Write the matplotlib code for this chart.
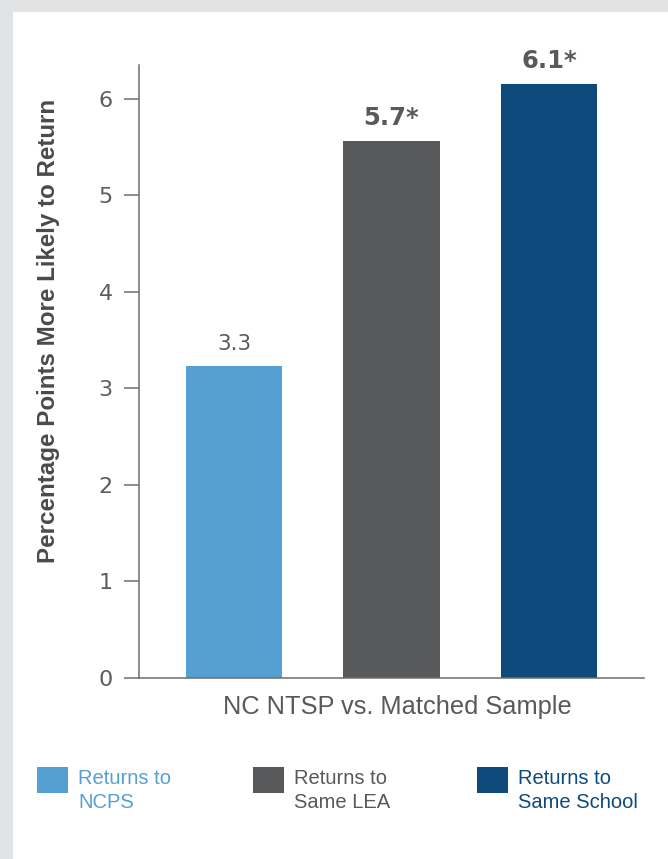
import numpy as np
import matplotlib
matplotlib.use("Agg")
import matplotlib.pyplot as plt
from matplotlib.patches import Rectangle

# chart values
groups = ["Returns to\nNCPS", "Returns to\nSame LEA", "Returns to\nSame School"]
values = [3.23, 5.565, 6.155]
value_labels = ["3.3", "5.7*", "6.1*"]
label_bold = [False, True, True]
colors = ["#569fd3", "#58595b", "#0e4a7b"]
y_ticks = [0, 1, 2, 3, 4, 5, 6]

plt.rcParams["font.family"] = ["Liberation Sans", "DejaVu Sans"]
text_gray = "#595959"
axis_gray = "#6e6e6e"

W, H = 668, 859
fig = plt.figure(figsize=(W / 100, H / 100), dpi=100)
fig.patch.set_facecolor("#e2e3e5")
# white panel
fig.patches.append(Rectangle((13 / W, 0), 1, 1 - 12 / H, transform=fig.transFigure,
                             facecolor="white", edgecolor="none", zorder=-10))

ax = fig.add_axes([139 / W, 181 / H, 505 / W, 613 / H])
ax.set_zorder(2)
ax.set_facecolor("none")

x = np.arange(len(values))
bars = ax.bar(x, values, width=0.61, color=colors, zorder=2)

for rect, lab, bold in zip(bars, value_labels, label_bold):
    ax.annotate(lab, (rect.get_x() + rect.get_width() / 2, rect.get_height()),
                xytext=(0, 8 if bold else 9), textcoords="offset points",
                ha="center", va="bottom", family="DejaVu Sans",
                fontsize=17.5 if bold else 15.5,
                fontweight="bold" if bold else "normal", color=text_gray)

ax.set_xlim(-0.603, 2.603)
ax.set_ylim(0, 6.35)
ax.set_yticks(y_ticks)
ax.set_xticks([])
ax.tick_params(axis="y", direction="out", length=11, width=1.1, color=axis_gray,
               labelsize=16, labelcolor="#5c5c5c", pad=8)
for t in ax.get_yticklabels():
    t.set_family("DejaVu Sans")
for s in ["top", "right"]:
    ax.spines[s].set_visible(False)
for s in ["left", "bottom"]:
    ax.spines[s].set_color(axis_gray)
    ax.spines[s].set_linewidth(1.1)

ax.set_xlabel("NC NTSP vs. Matched Sample", fontsize=18.3, color=text_gray)
ax.xaxis.set_label_coords(0.512, -0.028)
ax.xaxis.label.set_va("top")
ax.set_ylabel("Percentage Points More Likely to Return", fontsize=17.4,
              fontweight="bold", color="#4a4a4a")
ax.yaxis.set_label_coords(-0.18, 0.566)
ax.yaxis.label.set_va("center")

# legend
sq_x = [37, 253, 477]
for i, (g, c) in enumerate(zip(groups, colors)):
    fig.patches.append(Rectangle((sq_x[i] / W, 1 - 793 / H), 31 / W, 26 / H,
                                 transform=fig.transFigure, facecolor=c, edgecolor="none"))
    fig.text((sq_x[i] + 41) / W, 1 - 769 / H, g, color=c, fontsize=14.5,
             ha="left", va="top", linespacing=1.32)

fig.savefig("out.png", dpi=100, facecolor=fig.get_facecolor())
